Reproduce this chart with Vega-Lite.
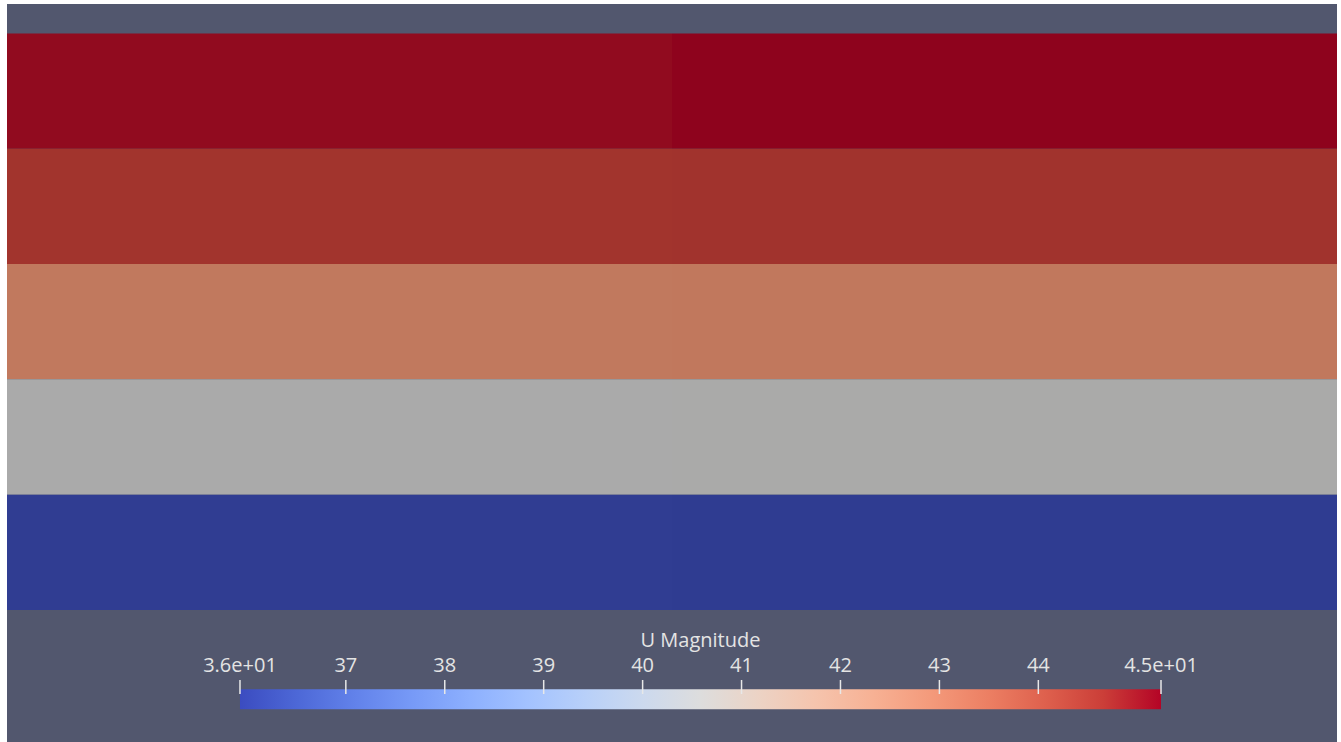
{
  "$schema": "https://vega.github.io/schema/vega-lite/v6.json",
  "width": 1341,
  "height": 742,
  "autosize": {"type": "fit", "contains": "padding"},
  "padding": {"left": 7, "top": 4, "right": 4, "bottom": 0},
  "background": "#ffffff",
  "config": {
    "view": {"stroke": null, "fill": "#52576e"},
    "text": {"font": "Open Sans", "fontSize": 20, "color": "#e4e4e4"}
  },
  "datasets": {
    "cells": [
      {"layer": 1, "cell": "a", "u": 45.14},
      {"layer": 1, "cell": "b", "u": 45.24},
      {"layer": 2, "cell": "a", "u": 44.57},
      {"layer": 2, "cell": "b", "u": 44.6},
      {"layer": 3, "cell": "a", "u": 42.88},
      {"layer": 3, "cell": "b", "u": 42.92},
      {"layer": 4, "cell": "a", "u": 40.58},
      {"layer": 4, "cell": "b", "u": 40.6},
      {"layer": 5, "cell": "a", "u": 35.97},
      {"layer": 5, "cell": "b", "u": 35.93}
    ],
    "range": [{"name": "U Magnitude", "lo": 35.93, "hi": 45.24, "mid": 40.585}],
    "ticks": [
      {"v": 35.93, "label": "3.6e+01"},
      {"v": 37, "label": "37"},
      {"v": 38, "label": "38"},
      {"v": 39, "label": "39"},
      {"v": 40, "label": "40"},
      {"v": 41, "label": "41"},
      {"v": 42, "label": "42"},
      {"v": 43, "label": "43"},
      {"v": 44, "label": "44"},
      {"v": 45.24, "label": "4.5e+01"}
    ]
  },
  "resolve": {"scale": {"x": "independent", "y": "independent", "color": "independent"}},
  "layer": [
    {
      "data": {"name": "cells"},
      "mark": {"type": "rect", "strokeWidth": 0},
      "encoding": {
        "x": {"field": "cell", "type": "ordinal", "axis": null,
              "scale": {"paddingInner": 0, "paddingOuter": 0}},
        "y": {"field": "layer", "type": "ordinal", "axis": null,
              "scale": {"paddingInner": 0, "paddingOuter": 0.7, "align": 0.182}},
        "color": {
          "field": "u", "type": "quantitative", "legend": null,
          "scale": {
            "type": "linear",
            "interpolate": "rgb",
            "domain": [35.93, 36.511875, 37.09375, 37.675625, 38.2575, 38.839375, 39.42125, 40.003125, 40.585, 41.166875, 41.74875, 42.330625, 42.9125, 43.494375, 44.07625, 44.658125, 45.24],
            "range": ["#2f3c91", "#3b50a6", "#4b64b4", "#5c77be", "#6d88c4", "#7e95c4", "#8ea0c0", "#9da7b7", "#aaaaaa", "#baa596", "#c29983", "#c38a70", "#c1785d", "#ba634b", "#af4b3b", "#a0302b", "#8e031d"]
          }
        }
      }
    },
    {
      "layer": [
        {
          "data": {"name": "range"},
          "mark": {
            "type": "rect",
            "color": {
              "gradient": "linear", "x1": 0, "y1": 0, "x2": 1, "y2": 0,
              "stops": [
                {"offset": 0, "color": "#3b4cc0"},
                {"offset": 0.0625, "color": "#4d68d7"},
                {"offset": 0.125, "color": "#6282ea"},
                {"offset": 0.1875, "color": "#779af7"},
                {"offset": 0.25, "color": "#8db0fe"},
                {"offset": 0.3125, "color": "#a3c2ff"},
                {"offset": 0.375, "color": "#b8d0f9"},
                {"offset": 0.4375, "color": "#ccd9ee"},
                {"offset": 0.5, "color": "#dddddd"},
                {"offset": 0.5625, "color": "#ecd3c5"},
                {"offset": 0.625, "color": "#f5c4ad"},
                {"offset": 0.6875, "color": "#f7b194"},
                {"offset": 0.75, "color": "#f49a7b"},
                {"offset": 0.8125, "color": "#ec7f63"},
                {"offset": 0.875, "color": "#de604d"},
                {"offset": 0.9375, "color": "#cb3e38"},
                {"offset": 1, "color": "#b40426"}
              ]
            }
          },
          "encoding": {
            "x": {"field": "lo", "type": "quantitative", "axis": null,
                  "scale": {"domain": [33.575, 47.019], "nice": false, "zero": false}},
            "x2": {"field": "hi"},
            "y": {"datum": 0, "type": "quantitative", "axis": null,
                  "scale": {"domain": [-1.635, 35.265], "nice": false, "zero": false}},
            "y2": {"datum": 1}
          }
        },
        {
          "data": {"name": "ticks"},
          "mark": {"type": "rule", "color": "#e8e8e8", "strokeWidth": 1.5},
          "encoding": {
            "x": {"field": "v", "type": "quantitative", "axis": null,
                  "scale": {"domain": [33.575, 47.019], "nice": false, "zero": false}},
            "y": {"datum": 0.765, "type": "quantitative", "axis": null,
                  "scale": {"domain": [-1.635, 35.265], "nice": false, "zero": false}},
            "y2": {"datum": 1.465}
          }
        },
        {
          "data": {"name": "ticks"},
          "mark": {"type": "text", "align": "center", "baseline": "alphabetic"},
          "encoding": {
            "x": {"field": "v", "type": "quantitative", "axis": null,
                  "scale": {"domain": [33.575, 47.019], "nice": false, "zero": false}},
            "y": {"datum": 1.88, "type": "quantitative", "axis": null,
                  "scale": {"domain": [-1.635, 35.265], "nice": false, "zero": false}},
            "text": {"field": "label"}
          }
        },
        {
          "data": {"name": "range"},
          "mark": {"type": "text", "align": "center", "baseline": "alphabetic"},
          "encoding": {
            "x": {"field": "mid", "type": "quantitative", "axis": null,
                  "scale": {"domain": [33.575, 47.019], "nice": false, "zero": false}},
            "y": {"datum": 3.115, "type": "quantitative", "axis": null,
                  "scale": {"domain": [-1.635, 35.265], "nice": false, "zero": false}},
            "text": {"field": "name"}
          }
        }
      ]
    }
  ]
}
